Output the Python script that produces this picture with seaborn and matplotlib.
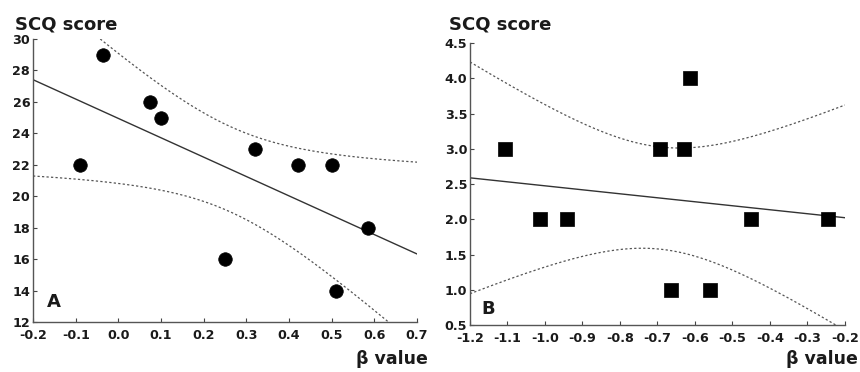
import numpy as np
import pandas as pd
import matplotlib
matplotlib.use("Agg")
import matplotlib.pyplot as plt
import seaborn as sns

# Panel A: beta value vs SCQ score
beta_a = [-0.09, -0.035, 0.075, 0.10, 0.25, 0.32, 0.42, 0.50, 0.51, 0.585]
scq_a = [22, 29, 26, 25, 16, 23, 22, 22, 14, 18]

# Panel B: beta value vs SCQ score
beta_b = [-1.107, -1.013, -0.94, -0.693, -0.665, -0.628, -0.612, -0.56, -0.451, -0.244]
scq_b = [3, 2, 2, 3, 1, 3, 4, 1, 2, 2]

xticks_a = [-0.2, -0.1, 0.0, 0.1, 0.2, 0.3, 0.4, 0.5, 0.6, 0.7]
yticks_a = [12, 14, 16, 18, 20, 22, 24, 26, 28, 30]
xticks_b = [-1.2, -1.1, -1.0, -0.9, -0.8, -0.7, -0.6, -0.5, -0.4, -0.3, -0.2]
yticks_b = [0.5, 1.0, 1.5, 2.0, 2.5, 3.0, 3.5, 4.0, 4.5]

T_95 = 2.306  # t(0.975, df=8)

sns.set_style("ticks")
plt.rcParams['font.family'] = ['DejaVu Sans']
plt.rcParams['font.weight'] = 'bold'


def fit_band(x, y, xgrid):
    # least squares line + 95% confidence band of the mean
    x = np.asarray(x, float)
    y = np.asarray(y, float)
    n = len(x)
    slope, icpt = np.polyfit(x, y, 1)
    resid = y - (slope * x + icpt)
    s = np.sqrt(np.sum(resid ** 2) / (n - 2))
    sxx = np.sum((x - x.mean()) ** 2)
    yhat = slope * xgrid + icpt
    hw = T_95 * s * np.sqrt(1.0 / n + (xgrid - x.mean()) ** 2 / sxx)
    return yhat, yhat - hw, yhat + hw


def draw_panel(ax, x, y, marker, size, xticks, yticks, yfmt, letter, lpos):
    grid = np.linspace(xticks[0], xticks[-1], 300)
    yhat, lo, hi = fit_band(x, y, grid)
    ax.plot(grid, yhat, color="#333333", lw=1.0)
    ax.plot(grid, lo, color="#555555", lw=0.9, ls=(0, (1.8, 1.8)))
    ax.plot(grid, hi, color="#555555", lw=0.9, ls=(0, (1.8, 1.8)))
    df = pd.DataFrame({"beta": x, "scq": y})
    sns.scatterplot(data=df, x="beta", y="scq", ax=ax, marker=marker,
                    s=size, color="black", edgecolor="black", linewidth=0.5,
                    zorder=5)
    ax.set_xlim(xticks[0], xticks[-1])
    ax.set_ylim(yticks[0], yticks[-1])
    ax.set_xticks(xticks)
    ax.set_yticks(yticks)
    ax.set_xticklabels(["{:.1f}".format(v) for v in xticks])
    ax.set_yticklabels([yfmt.format(v) for v in yticks])
    ax.tick_params(direction="in", length=3, width=0.8, labelsize=9.2,
                   colors="#444444", labelcolor="#1a1a1a")
    ax.tick_params(axis="x", pad=5)
    ax.tick_params(axis="y", pad=2)
    for lab in ax.get_xticklabels() + ax.get_yticklabels():
        lab.set_fontweight("bold")
    sns.despine(ax=ax)
    for sp in ("left", "bottom"):
        ax.spines[sp].set_color("#555555")
        ax.spines[sp].set_linewidth(1.0)
    ax.set_xlabel("")
    ax.set_ylabel("")
    ax.text(lpos[0], lpos[1], letter, transform=ax.transAxes, fontsize=13,
            fontweight="bold", color="#1a1a1a", ha="left", va="bottom")


fig = plt.figure(figsize=(8.6, 3.72), dpi=100)
ax_a = fig.add_axes([0.0384, 0.1344, 0.4465, 0.761])
ax_b = fig.add_axes([0.5465, 0.1263, 0.436, 0.758])

draw_panel(ax_a, beta_a, scq_a, "o", 95, xticks_a, yticks_a, "{:d}", "A", (0.036, 0.04))
draw_panel(ax_b, beta_b, scq_b, "s", 110, xticks_b, yticks_b, "{:.1f}", "B", (0.03, 0.025))

fig.text(0.017, 0.935, "SCQ score", fontsize=13, fontweight="bold",
         color="#1a1a1a", ha="left", va="center")
fig.text(0.522, 0.935, "SCQ score", fontsize=13, fontweight="bold",
         color="#1a1a1a", ha="left", va="center")
fig.text(0.497, 0.036, "β value", fontsize=12.5, fontweight="bold",
         color="#1a1a1a", ha="right", va="center")
fig.text(0.998, 0.036, "β value", fontsize=12.5, fontweight="bold",
         color="#1a1a1a", ha="right", va="center")

fig.savefig("out.png", dpi=100)
